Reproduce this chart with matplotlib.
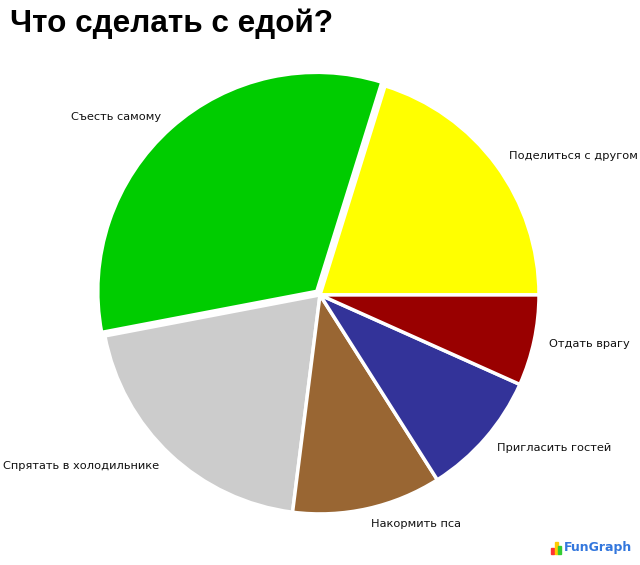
import matplotlib.pyplot as plt
from matplotlib.patches import Rectangle

# Данные
labels = ['Поделиться с другом', 'Съесть самому', 'Спрятать в холодильнике',
          'Накормить пса', 'Пригласить гостей', 'Отдать врагу']
values = [20.2, 32.8, 20, 11, 9.3, 6.7]
colors = ['#FFFF00', '#00CC00', '#CCCCCC', '#996633', '#333399', '#990000']
explode = [0, 0.022, 0, 0, 0, 0]

fig = plt.figure(figsize=(6.4, 5.65), dpi=100)
ax = fig.add_axes([0.5 - 0.3422, 0.478 - 0.3876, 0.6844, 0.7752])

wedges, texts = ax.pie(
    values,
    labels=labels,
    colors=colors,
    explode=explode,
    startangle=0,
    labeldistance=1.07,
    wedgeprops=dict(edgecolor='white', linewidth=2.5),
    textprops=dict(fontsize=8.2, family='DejaVu Sans', color='#111111'),
)
ax.set_xlim(-1, 1)
ax.set_ylim(-1, 1)
ax.set_aspect('equal')

# Заголовок
fig.text(10 / 640, 1 - 24 / 565, 'Что сделать с едой?', fontsize=22.7, fontweight='bold',
         family='Liberation Sans', va='center', ha='left')

# Логотип
for i, (h, c) in enumerate([(6, '#FF3333'), (12, '#FFCC00'), (8, '#33CC33')]):
    fig.patches.append(Rectangle(((551 + i * 3.5) / 640, 1 - 554 / 565), 3 / 640, h / 565,
                                 transform=fig.transFigure, color=c))
fig.text(564 / 640, 1 - 548 / 565, 'FunGraph', fontsize=9, fontweight='bold',
         color='#3377DD', va='center', ha='left', family='DejaVu Sans')

fig.savefig('out.png', dpi=100)
